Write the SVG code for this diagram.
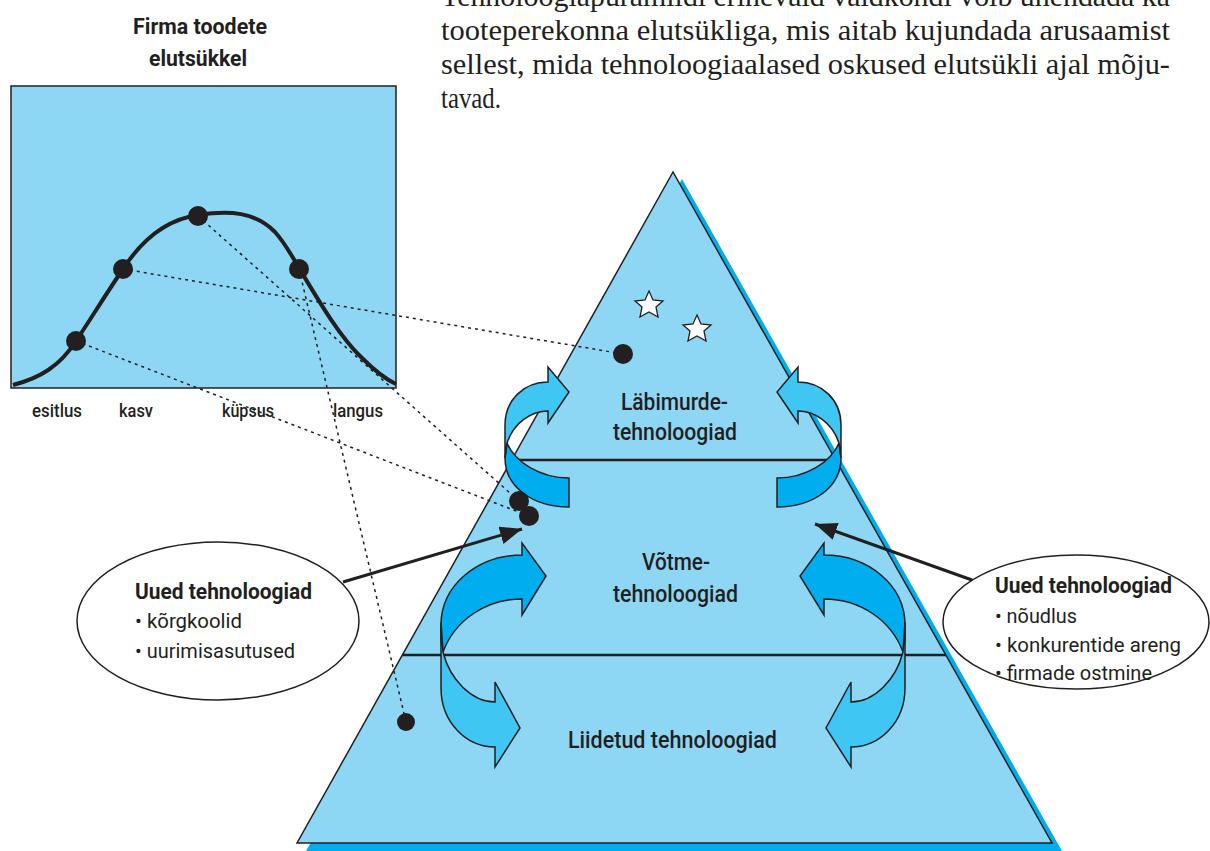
<svg xmlns="http://www.w3.org/2000/svg" width="1210" height="851" viewBox="0 0 1210 851">
<defs>
<style>
.para{font-family:"Liberation Serif","Times New Roman",serif;font-size:29px;fill:#231f20}
.lbl{font-family:Roboto,"Liberation Sans",sans-serif;fill:#231f20}
.b{font-weight:700}
.m{font-weight:500}
.tri{fill:#8dd7f5;stroke:#231f20;stroke-width:1.5}
.div{stroke:#231f20;stroke-width:2.5}
.dark{fill:#00aeef;stroke:#231f20;stroke-width:1.5;stroke-linejoin:miter}
.light{fill:#3fc6f2;stroke:#231f20;stroke-width:1.5;stroke-linejoin:miter}
.dot{fill:#231f20}
.dash{fill:none;stroke:#231f20;stroke-width:1.5;stroke-dasharray:3 4}
.ell{fill:#fff;stroke:#231f20;stroke-width:1.5}
</style>
<marker id="ah" markerUnits="userSpaceOnUse" markerWidth="24" markerHeight="18" refX="22" refY="9" orient="auto">
<path d="M0,0 L22,9 L0,18 Z" fill="#231f20"/>
</marker>
</defs>
<rect width="1210" height="851" fill="#fff"/>

<g id="paragraph">
<text class="para" x="441" y="6" textLength="729" lengthAdjust="spacingAndGlyphs">Tehnoloogiapüramiidi erinevaid valdkondi võib ühendada ka</text>
<text class="para" x="441" y="40" textLength="729" lengthAdjust="spacingAndGlyphs">tooteperekonna elutsükliga, mis aitab kujundada arusaamist</text>
<text class="para" x="441" y="74" textLength="729" lengthAdjust="spacingAndGlyphs">sellest, mida tehnoloogiaalased oskused elutsükli ajal mõju-</text>
<text class="para" x="441" y="108" textLength="60" lengthAdjust="spacingAndGlyphs">tavad.</text>
</g>

<g id="lifecycle-chart">
<text class="lbl b" x="133" y="34" font-size="22" textLength="134" lengthAdjust="spacingAndGlyphs">Firma toodete</text>
<text class="lbl b" x="149" y="66" font-size="22" textLength="98" lengthAdjust="spacingAndGlyphs">elutsükkel</text>
<rect x="11" y="86" width="385" height="302" fill="#8dd7f5" stroke="#231f20" stroke-width="1.5"/>
<path d="M13,385 C40,378 60,366 76,341 C90,320 108,291 123,269 C145,235 170,219 198,215 C230,210 255,212 275,232 C285,243 292,256 299,268 C320,303 340,337 362,358 C375,371 385,379 396,384" fill="none" stroke="#231f20" stroke-width="4"/>
<circle class="dot" cx="76" cy="341" r="10"/>
<circle class="dot" cx="123" cy="269" r="10"/>
<circle class="dot" cx="198" cy="216" r="10"/>
<circle class="dot" cx="299" cy="269" r="10"/>
<text class="lbl m" x="32" y="417" font-size="18" textLength="50" lengthAdjust="spacingAndGlyphs">esitlus</text>
<text class="lbl m" x="119" y="417" font-size="18" textLength="34" lengthAdjust="spacingAndGlyphs">kasv</text>
<text class="lbl m" x="222" y="417" font-size="18" textLength="52" lengthAdjust="spacingAndGlyphs">küpsus</text>
<text class="lbl m" x="333" y="417" font-size="18" textLength="50" lengthAdjust="spacingAndGlyphs">langus</text>
</g>

<g id="pyramid">
<polygon points="682,179 306,851 1062,851" fill="#00aeef"/>
<polygon class="tri" points="673,172 297,843 1052,843"/>
<line class="div" x1="512" y1="460" x2="836" y2="460"/>
<line class="div" x1="402" y1="655" x2="946" y2="655"/>
<polygon points="649,291 653,300 663,301 656,307 658,317 649,312 640,317 642,307 635,301 645,300" fill="#fff" stroke="#231f20" stroke-width="1.3"/>
<polygon points="697,315 701,324 711,325 704,331 706,341 697,336 688,341 690,331 683,325 693,324" fill="#fff" stroke="#231f20" stroke-width="1.3"/>
<text class="lbl m" x="621" y="410" font-size="23" textLength="107" lengthAdjust="spacingAndGlyphs">Läbimurde-</text>
<text class="lbl m" x="613" y="440" font-size="23" textLength="124" lengthAdjust="spacingAndGlyphs">tehnoloogiad</text>
<text class="lbl m" x="642" y="570" font-size="23" textLength="68" lengthAdjust="spacingAndGlyphs">Võtme-</text>
<text class="lbl m" x="613" y="602" font-size="23" textLength="125" lengthAdjust="spacingAndGlyphs">tehnoloogiad</text>
<text class="lbl m" x="568" y="748" font-size="23" textLength="209" lengthAdjust="spacingAndGlyphs">Liidetud tehnoloogiad</text>
</g>

<g id="cycle-arrows">
<g id="arrow-top-left">
<path class="dark" d="M569,478 L569,507 C534,507 505,488 505,458 L507,443 C515,462 540,478 569,478 Z"/>
<path class="light" d="M505,458 L505,425 C505,400 524,382 548,382 L548,367 L569,392 L548,423 L548,411 C532,411 514,422 507,443 Z"/>
</g>
<g id="arrow-top-right" transform="matrix(-1,0,0,1,1346,0)">
<path class="dark" d="M569,478 L569,507 C534,507 505,488 505,458 L507,443 C515,462 540,478 569,478 Z"/>
<path class="light" d="M505,458 L505,425 C505,400 524,382 548,382 L548,367 L569,392 L548,423 L548,411 C532,411 514,422 507,443 Z"/>
</g>
<g id="arrow-bottom-left">
<path class="dark" d="M441,640 L441,625 C441,585 478,555 522,555 L522,543 L546,576 L522,615 L522,599 C486,599 455,620 443,652 Z"/>
<path class="light" d="M441,622 L441,688 C441,722 466,747 495,747 L495,767 L520,728 L495,682 L495,702 C472,702 450,680 443,652 Z"/>
</g>
<g id="arrow-bottom-right" transform="matrix(-1,0,0,1,1346,0)">
<path class="dark" d="M441,640 L441,625 C441,585 478,555 522,555 L522,543 L546,576 L522,615 L522,599 C486,599 455,620 443,652 Z"/>
<path class="light" d="M441,622 L441,688 C441,722 466,747 495,747 L495,767 L520,728 L495,682 L495,702 C472,702 450,680 443,652 Z"/>
</g>
</g>

<g id="pyramid-dots">
<circle class="dot" cx="623" cy="354" r="10"/>
<circle class="dot" cx="519" cy="501" r="10"/>
<circle class="dot" cx="529" cy="516" r="10"/>
<circle class="dot" cx="406" cy="722" r="9"/>
</g>

<g id="connectors">
<line class="dash" x1="76" y1="341" x2="529" y2="516"/>
<line class="dash" x1="123" y1="269" x2="623" y2="354"/>
<line class="dash" x1="198" y1="216" x2="519" y2="501"/>
<line class="dash" x1="299" y1="269" x2="406" y2="722"/>
<line x1="343" y1="582" x2="522" y2="529" stroke="#231f20" stroke-width="3" marker-end="url(#ah)"/>
<line x1="972" y1="580" x2="815" y2="524" stroke="#231f20" stroke-width="3" marker-end="url(#ah)"/>
</g>

<g id="ellipse-left">
<ellipse class="ell" cx="218" cy="621" rx="141" ry="79"/>
<text class="lbl b" x="135" y="599" font-size="22" textLength="177" lengthAdjust="spacingAndGlyphs">Uued tehnoloogiad</text>
<text class="lbl" x="135" y="628" font-size="21" textLength="107" lengthAdjust="spacingAndGlyphs">• kõrgkoolid</text>
<text class="lbl" x="135" y="658" font-size="21" textLength="160" lengthAdjust="spacingAndGlyphs">• uurimisasutused</text>
</g>

<g id="ellipse-right">
<ellipse class="ell" cx="1076" cy="622" rx="133" ry="67"/>
<text class="lbl b" x="995" y="593" font-size="22" textLength="177" lengthAdjust="spacingAndGlyphs">Uued tehnoloogiad</text>
<text class="lbl" x="995" y="623" font-size="21" textLength="82" lengthAdjust="spacingAndGlyphs">• nõudlus</text>
<text class="lbl" x="995" y="652" font-size="21" textLength="186" lengthAdjust="spacingAndGlyphs">• konkurentide areng</text>
<text class="lbl" x="995" y="680" font-size="21" textLength="157" lengthAdjust="spacingAndGlyphs">• firmade ostmine</text>
</g>
</svg>
